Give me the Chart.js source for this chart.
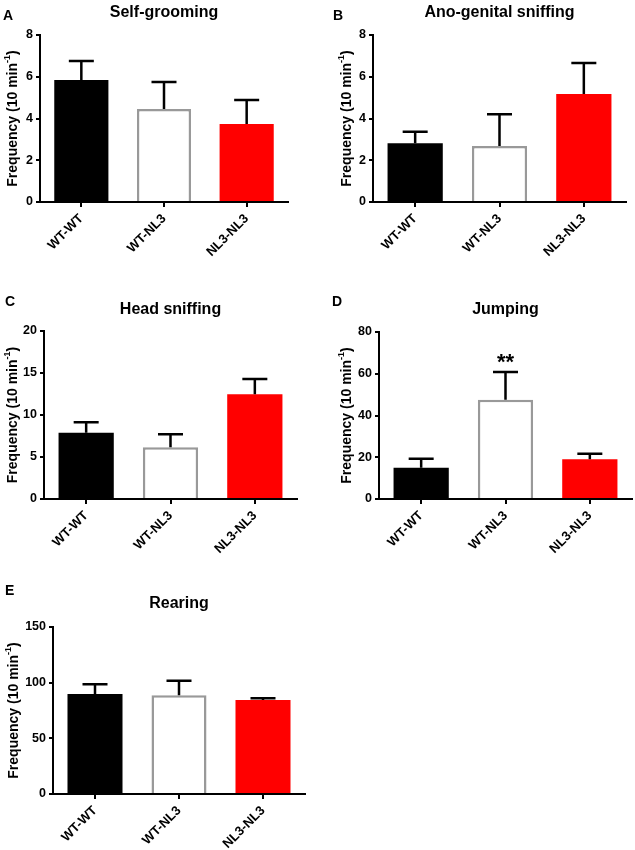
<!DOCTYPE html>
<html>
<head>
<meta charset="utf-8">
<script src="https://cdn.jsdelivr.net/npm/chart.js@4.4.1/dist/chart.umd.min.js"></script>
<style>
  body { margin: 0; background: #fff; width: 635px; height: 850px; position: relative; overflow: hidden; }
  canvas { position: absolute; }
</style>
</head>
<body>
<canvas id="cA"></canvas>
<canvas id="cB"></canvas>
<canvas id="cC"></canvas>
<canvas id="cD"></canvas>
<canvas id="cE"></canvas>
<script>
// data
const groups = ['WT-WT', 'WT-NL3', 'NL3-NL3'];

const selfGrooming = [5.85, 4.45, 3.74];
const selfGroomingErr = [0.9, 1.3, 1.15];

const anoGenital = [2.81, 2.68, 5.17];
const anoGenitalErr = [0.56, 1.52, 1.49];

const headSniffing = [7.9, 6.15, 12.46];
const headSniffingErr = [1.23, 1.55, 1.84];

const jumping = [15.0, 47.6, 19.0];
const jumpingErr = [4.3, 13.2, 2.7];
const jumpingStars = ['', '**', ''];

const rearing = [89.8, 88.6, 84.4];
const rearingErr = [8.7, 13.2, 1.6];

const FONT = "'Liberation Sans', Arial, sans-serif";
Chart.defaults.font.family = FONT;
Chart.defaults.font.weight = 'bold';
Chart.defaults.color = '#000';

// box = canvas position, area = plot area (page coords)
const panels = [
  { id: 'cA', letter: 'A', title: 'Self-grooming', vals: selfGrooming, errs: selfGroomingErr, max: 8, step: 2,
    box: [0, 0, 318, 290], area: [40, 35, 288, 202], letterXY: [3, 15], titleY: 11, yTitleX: 13 },
  { id: 'cB', letter: 'B', title: 'Ano-genital sniffing', vals: anoGenital, errs: anoGenitalErr, max: 8, step: 2,
    box: [318, 0, 317, 290], area: [373, 35, 626, 202], letterXY: [333, 15], titleY: 11, yTitleX: 347 },
  { id: 'cC', letter: 'C', title: 'Head sniffing', vals: headSniffing, errs: headSniffingErr, max: 20, step: 5,
    box: [0, 290, 318, 290], area: [44, 331, 297, 499], letterXY: [5, 301], titleY: 308, yTitleX: 13 },
  { id: 'cD', letter: 'D', title: 'Jumping', vals: jumping, errs: jumpingErr, stars: jumpingStars, max: 80, step: 20,
    box: [318, 290, 317, 290], area: [379, 332, 632, 499], letterXY: [332, 301], titleY: 308, yTitleX: 347 },
  { id: 'cE', letter: 'E', title: 'Rearing', vals: rearing, errs: rearingErr, max: 150, step: 50,
    box: [0, 580, 318, 270], area: [53, 627, 305, 794], letterXY: [5, 590], titleY: 602, yTitleX: 14 }
];

const errorBars = {
  id: 'errorBars',
  afterDatasetsDraw(chart, args, opts) {
    const { ctx, scales: { y } } = chart;
    const meta = chart.getDatasetMeta(0);
    const vals = chart.data.datasets[0].data;
    ctx.save();
    ctx.strokeStyle = '#000';
    ctx.lineWidth = 2.5;
    meta.data.forEach((bar, i) => {
      const yBase = y.getPixelForValue(vals[i]);
      const yTop = y.getPixelForValue(vals[i] + opts.errs[i]);
      ctx.beginPath();
      ctx.moveTo(bar.x, yBase);
      ctx.lineTo(bar.x, yTop);
      ctx.moveTo(bar.x - 12.5, yTop);
      ctx.lineTo(bar.x + 12.5, yTop);
      ctx.stroke();
      if (opts.stars && opts.stars[i]) {
        ctx.fillStyle = '#000';
        ctx.font = 'bold 22px ' + FONT;
        ctx.textAlign = 'center';
        ctx.textBaseline = 'alphabetic';
        ctx.fillText(opts.stars[i], bar.x, yTop - 3);
      }
    });
    ctx.restore();
  }
};

const deco = {
  id: 'deco',
  afterDraw(chart, args, opts) {
    const { ctx, chartArea } = chart;
    ctx.save();
    ctx.fillStyle = '#000';
    ctx.textBaseline = 'alphabetic';
    // panel letter
    ctx.font = 'bold 14px ' + FONT;
    ctx.textAlign = 'left';
    ctx.fillText(opts.letter, opts.letterXY[0], opts.letterXY[1] + 5);
    // title
    ctx.font = 'bold 16px ' + FONT;
    ctx.textAlign = 'center';
    ctx.fillText(opts.title, (chartArea.left + chartArea.right) / 2, opts.titleY + 6);
    // y axis title with superscript
    const main = 'Frequency (10 min', sup = '-1', tail = ')';
    ctx.font = 'bold 14px ' + FONT;
    const wMain = ctx.measureText(main).width, wTail = ctx.measureText(tail).width;
    ctx.font = 'bold 9px ' + FONT;
    const wSup = ctx.measureText(sup).width;
    const total = wMain + wSup + wTail;
    ctx.translate(opts.yTitleX, (chartArea.top + chartArea.bottom) / 2);
    ctx.rotate(-Math.PI / 2);
    ctx.textAlign = 'left';
    ctx.textBaseline = 'middle';
    let x = -total / 2;
    ctx.font = 'bold 14px ' + FONT;
    ctx.fillText(main, x, 0);
    x += wMain;
    ctx.font = 'bold 9px ' + FONT;
    ctx.fillText(sup, x, -5);
    x += wSup;
    ctx.font = 'bold 14px ' + FONT;
    ctx.fillText(tail, x, 0);
    ctx.restore();
  }
};

panels.forEach(p => {
  const [bx, by, bw, bh] = p.box;
  const [aL, aT, aR, aB] = [p.area[0] - bx, p.area[1] - by, p.area[2] - bx, p.area[3] - by];
  const cv = document.getElementById(p.id);
  cv.width = bw; cv.height = bh;
  cv.style.left = bx + 'px'; cv.style.top = by + 'px';
  cv.style.width = bw + 'px'; cv.style.height = bh + 'px';

  const axisGrid = { display: true, drawOnChartArea: false, drawTicks: true, color: '#000', lineWidth: 2 };

  new Chart(cv, {
    type: 'bar',
    data: {
      labels: groups,
      datasets: [{
        data: p.vals,
        backgroundColor: ['#000000', '#ffffff', '#ff0000'],
        borderColor: ['#000000', '#999999', '#ff0000'],
        borderWidth: [0, 2.5, 0],
        categoryPercentage: 1,
        barPercentage: 0.655
      }]
    },
    plugins: [errorBars, deco],
    options: {
      responsive: false,
      animation: false,
      devicePixelRatio: 1,
      layout: { padding: { left: 0, top: aT, right: bw - aR, bottom: 0 } },
      plugins: {
        legend: { display: false },
        tooltip: { enabled: false },
        errorBars: { errs: p.errs, stars: p.stars },
        deco: {
          letter: p.letter, title: p.title,
          letterXY: [p.letterXY[0] - bx, p.letterXY[1] - by],
          titleY: p.titleY - by, yTitleX: p.yTitleX - bx
        }
      },
      scales: {
        x: {
          offset: true,
          grid: Object.assign({}, axisGrid, { offset: false, tickLength: 5 }),
          border: { display: true, color: '#000', width: 2 },
          ticks: { minRotation: 45, maxRotation: 45, padding: 4, font: { size: 13, weight: 'bold' } },
          afterFit: s => { s.height = bh - aB; }
        },
        y: {
          min: 0, max: p.max,
          grid: Object.assign({}, axisGrid, { tickLength: 4 }),
          border: { display: true, color: '#000', width: 2 },
          ticks: { stepSize: p.step, padding: 3, font: { size: 12.5, weight: 'bold' } },
          afterFit: s => { s.width = aL; }
        }
      }
    }
  });
});
</script>
</body>
</html>
